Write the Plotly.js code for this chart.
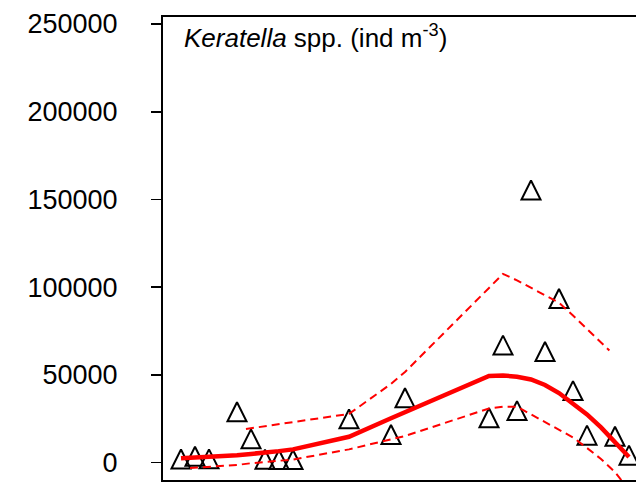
<!DOCTYPE html>
<html>
<head>
<meta charset="utf-8">
<script src="https://cdn.plot.ly/plotly-3.0.1.min.js"></script>
<style>
  html, body { margin: 0; padding: 0; background: #fff; overflow: hidden; }
</style>
</head>
<body>
<div id="chart" style="width:636px;height:482px"></div>
<script>
// Sampling occasions (position along the series)
const sampleX = [0, 1, 2, 4, 5, 6, 7, 8, 12, 15, 16, 22, 23, 24, 25, 26, 27, 28, 29, 31, 32];
// Keratella spp. density (ind m^-3)
const density = [300, 1900, 400, 27200, 11800, 200, 0, 0, 23200, 14300, 35200, 23800,
                 65200, 27900, 153600, 61600, 91800, 39300, 13900, 13300, 2500];

// Fitted trend
const fitX = [0, 2, 4, 5, 6, 7, 8, 12, 15, 16, 22, 23, 24, 25, 26, 27, 28, 29, 30, 31, 32];
const fitY = [2500, 3100, 4300, 5000, 5600, 6600, 7600, 14800, 25300, 28800, 49400, 49700,
              49000, 47400, 44300, 39700, 33700, 27500, 20100, 11800, 3200];

// Upper confidence limit
const upperX = [4.64, 8, 12, 15, 16, 22, 23, 24, 25, 26, 27, 28, 29, 30.6];
const upperY = [19200, 23200, 27800, 44900, 51700, 99600, 107600, 103900, 99700, 95400,
                91200, 83900, 76300, 63900];

// Lower confidence limit
const lowerX = [0.64, 2, 4, 5, 6, 7, 8, 12, 15, 16, 22, 23, 24, 25, 26, 27, 28, 29, 30, 31, 32];
const lowerY = [-3000, -2300, -1300, -300, 400, 1100, 1800, 7600, 13000, 15200, 30900, 31900,
                31900, 27500, 23100, 18900, 14400, 8400, 2100, -5300, -15600];

// Y axis ticks
const yTickVals = [0, 50000, 100000, 150000, 200000, 250000];
const yTickText = ['0', '50000', '100000', '150000', '200000', '250000'];

const markerSize = 19;

const traces = [
  {
    x: sampleX, y: density, type: 'scatter', mode: 'markers',
    marker: {
      // open triangle centred on its centroid
      symbol: 'arrow-down-open', angle: 180, standoff: markerSize * 2 / 3,
      size: markerSize, color: '#000',
      line: { color: '#000', width: 2 }
    },
    cliponaxis: false
  },
  {
    x: lowerX, y: lowerY, type: 'scatter', mode: 'lines',
    line: { color: '#ff0000', width: 2, dash: '8px,5px' }
  },
  {
    x: upperX, y: upperY, type: 'scatter', mode: 'lines',
    line: { color: '#ff0000', width: 2, dash: '8px,5px' }
  },
  {
    x: fitX, y: fitY, type: 'scatter', mode: 'lines',
    line: { color: '#ff0000', width: 4.5 }
  }
];

const layout = {
  width: 636, height: 482,
  margin: { l: 163, r: 0, t: 17, b: 2, pad: 0 },
  paper_bgcolor: '#fff', plot_bgcolor: '#fff',
  showlegend: false,
  font: { family: 'Liberation Sans, Arial, sans-serif', color: '#000' },
  xaxis: {
    range: [-1.286, 32.5],
    showgrid: false, zeroline: false,
    showline: true, mirror: true, linecolor: '#000', linewidth: 2,
    ticks: '', showticklabels: false, fixedrange: true
  },
  yaxis: {
    range: [-9860, 254000],
    showgrid: false, zeroline: false,
    showline: true, linecolor: '#000', linewidth: 2,
    ticks: 'outside', ticklen: 10, tickwidth: 1.5, tickcolor: '#000',
    tickmode: 'array', tickvals: yTickVals, ticktext: yTickText,
    tickfont: { size: 27, color: '#000' },
    ticklabelstandoff: 28,
    fixedrange: true
  },
  annotations: [{
    xref: 'paper', yref: 'paper', x: 0.04, y: 0.957,
    xanchor: 'left', yanchor: 'middle',
    text: '<i>Keratella</i> spp. (ind m<sup>-3</sup>)',
    showarrow: false,
    font: { size: 26, color: '#000' }
  }]
};

Plotly.newPlot('chart', traces, layout, { displayModeBar: false, staticPlot: true });
</script>
</body>
</html>
